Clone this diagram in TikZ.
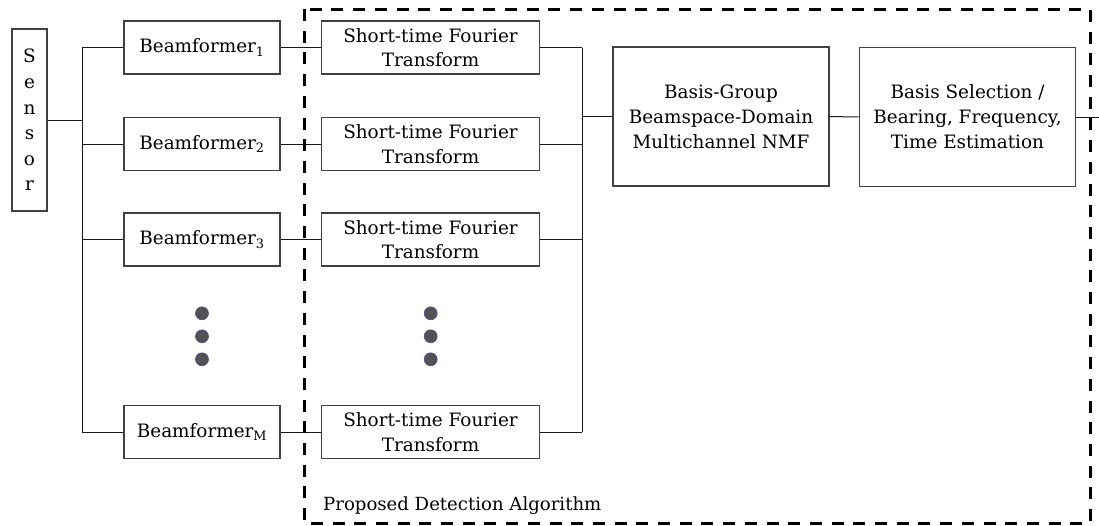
\documentclass[tikz,border=0pt]{standalone}
\usepackage{fontspec}
\setmainfont{DejaVu Serif}
\begin{document}
\begin{tikzpicture}[x=1pt,y=-1pt,
  box/.style={draw=black!75, line width=1.2pt, inner sep=0pt, align=center, font=\fontsize{18.4}{24.5}\selectfont},
  wire/.style={line width=1pt, draw=black!90},
  dotn/.style={circle, fill=black!68, draw=blue!45!black!70, line width=0.6pt, minimum size=13pt, inner sep=0pt},
  algbox/.style={line width=3pt, dash pattern=on 12pt off 9.7pt}]
\useasboundingbox (0,0) rectangle (1099,525);
% sensor
\node[box, minimum width=35pt, minimum height=182pt, font=\fontsize{18.4}{25.6}\selectfont] (sensor) at (29.5,120) {S\\e\\n\\s\\o\\r};
% beamformers
\node[box, minimum width=156pt, minimum height=53pt] (bf1) at (202,47.5) {Beamformer\textsubscript{1}};
\node[box, minimum width=156pt, minimum height=53pt] (bf2) at (202,144) {Beamformer\textsubscript{2}};
\node[box, minimum width=156pt, minimum height=53pt] (bf3) at (202,239.5) {Beamformer\textsubscript{3}};
\node[box, minimum width=156pt, minimum height=53pt] (bfM) at (202,432) {Beamformer\textsubscript{M}};
% STFTs
\node[box, minimum width=217.5pt, minimum height=53pt] (st1) at (430.5,47.5) {Short-time Fourier\\Transform};
\node[box, minimum width=217.5pt, minimum height=53pt] (st2) at (430.5,144) {Short-time Fourier\\Transform};
\node[box, minimum width=217.5pt, minimum height=53pt] (st3) at (430.5,239.5) {Short-time Fourier\\Transform};
\node[box, minimum width=217.5pt, minimum height=53pt] (stM) at (430.5,432) {Short-time Fourier\\Transform};
% dots
\node[dotn] (d1) at (202,313.3) {};
\node[dotn] (d2) at (202,336.3) {};
\node[dotn] (d3) at (202,359.3) {};
\node[dotn] (e1) at (430.7,313.3) {};
\node[dotn] (e2) at (430.7,336.3) {};
\node[dotn] (e3) at (430.7,359.3) {};
% NMF and selection
\node[box, minimum width=216pt, minimum height=139pt, font=\fontsize{18.4}{25}\selectfont] (nmf) at (721,116.5) {Basis-Group\\Beamspace-Domain\\Multichannel NMF};
\node[box, minimum width=216.4pt, minimum height=139.4pt, font=\fontsize{18.4}{25}\selectfont] (bsel) at (967.5,117) {Basis Selection /\\Bearing, Frequency,\\Time Estimation};
% buses
\coordinate (ltop) at (82,47.5);
\coordinate (lbot) at (82,432);
\coordinate (rtop) at (582,47.5);
\coordinate (rbot) at (582,432);
\coordinate (out) at (1099,117);
\draw[wire] (ltop) -- (lbot);
\draw[wire] (rtop) -- (rbot);
\draw[wire] (sensor.east) -- (sensor.east -| ltop);
\foreach \n in {bf1,bf2,bf3,bfM} \draw[wire] (\n.west) -- (\n.west -| ltop);
\draw[wire] (bf1) -- (st1);
\draw[wire] (bf2) -- (st2);
\draw[wire] (bf3) -- (st3);
\draw[wire] (bfM) -- (stM);
\foreach \n in {st1,st2,st3,stM} \draw[wire] (\n.east) -- (\n.east -| rtop);
\draw[wire] (nmf.west) -- (nmf.west -| rtop);
\draw[wire] (nmf) -- (bsel);
\draw[wire] (bsel.east) -- (out);
% algorithm frame
\draw[algbox] (304,9) rectangle (1090,523);
\node[anchor=base west, inner sep=0pt, font=\fontsize{18.1}{24}\selectfont] (lbl) at (323,510) {Proposed Detection Algorithm};
\end{tikzpicture}
\end{document}
